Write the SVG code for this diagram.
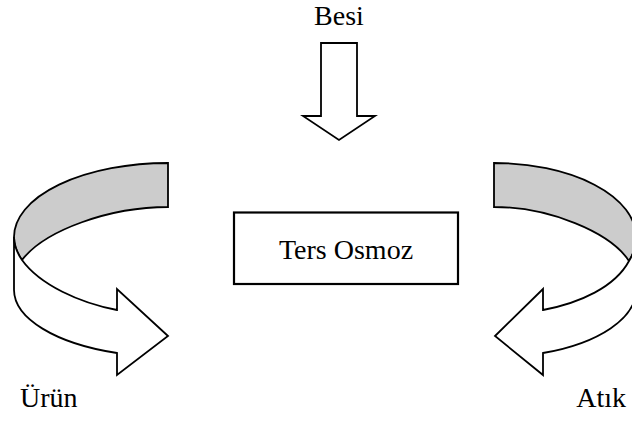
<svg xmlns="http://www.w3.org/2000/svg" width="632" height="421" viewBox="0 0 632 421">
  <style>
    .lbl { font-family: "Liberation Serif", "Times New Roman", serif; font-size: 28px; fill: #000; }
    .band-back { fill: #cccccc; stroke: #000; stroke-width: 1.8; stroke-linejoin: miter; }
    .band-front { fill: #ffffff; stroke: #000; stroke-width: 1.8; stroke-linejoin: miter; }
    .box { fill: #ffffff; stroke: #000; stroke-width: 2.2; }
  </style>

  <rect width="632" height="421" fill="#ffffff"/>

  <!-- feed input -->
  <g id="besi">
    <text class="lbl" x="339" y="25" text-anchor="middle">Besi</text>
  </g>

  <!-- reverse osmosis unit -->
  <g id="ters-osmoz">
    <rect class="box" x="234" y="212.5" width="224" height="71.5"/>
    <text class="lbl" x="346" y="259" text-anchor="middle">Ters Osmoz</text>
  </g>

  <g id="urun">
    <text class="lbl" x="20" y="407">Ürün</text>
  </g>

  <g id="atik">
    <text class="lbl" x="626" y="407" text-anchor="end">Atık</text>
  </g>

  <g id="connectors">
    <!-- straight block arrow into the unit -->
    <path class="band-front" d="M321,43 L357,43 L357,116 L375,116 L339,140 L303,116 L321,116 Z"/>

    <!-- left curved arrow (product) -->
    <path class="band-back" d="M168,163 A154,74 0 0 0 14,237 A154,74 0 0 0 22,260 C45,230 110,207 168,207 Z"/>
    <path class="band-front" d="M14,237 L14,290 A154,67 0 0 0 117,353 L117,375 L168,336 L117,289 L117,310 C80,303 40,285 22,260 A154,74 0 0 1 14,237 Z"/>

    <!-- right curved arrow (reject) -->
    <path class="band-back" d="M494,163 A142,74 0 0 1 636,237 A142,74 0 0 1 629,261 C610,232 549,207 494,207 Z"/>
    <path class="band-front" d="M636,237 L636,290 A142,67 0 0 1 543,353 L543,375 L495,336 L543,289 L543,310 C580,303 615,287 629,261 A142,74 0 0 0 636,237 Z"/>
  </g>
</svg>
